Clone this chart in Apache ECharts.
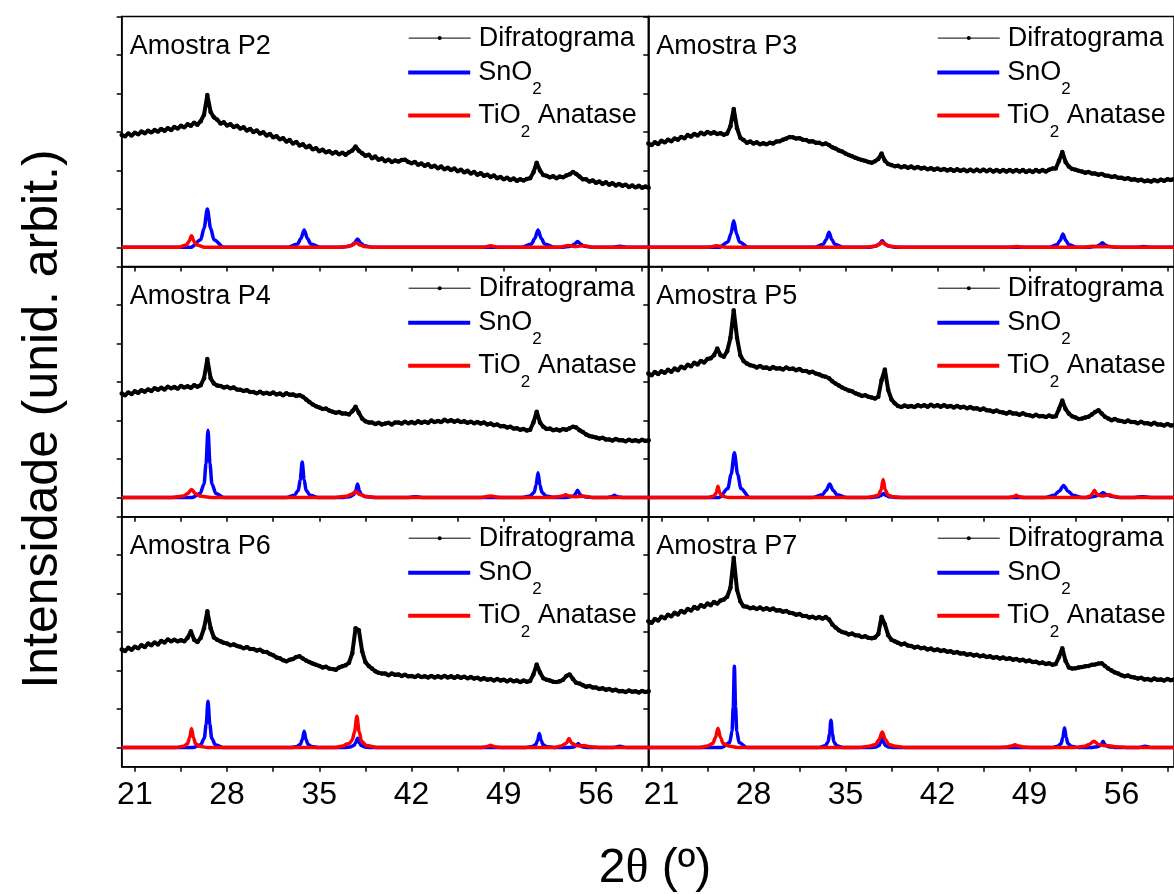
<!DOCTYPE html>
<html><head><meta charset="utf-8">
<script src="https://cdn.jsdelivr.net/npm/echarts@6/dist/echarts.min.js"></script>
<style>html,body{margin:0;padding:0;background:#fff}#c{width:1174px;height:894px}</style>
</head><body><div id="c"></div>
<script>
// ---------- data ----------
const sampleNames = ['Amostra P2','Amostra P3','Amostra P4','Amostra P5','Amostra P6','Amostra P7'];
const xTickLabels = [21,28,35,42,49,56];
const xTicks = [21,24.5,28,31.5,35,38.5,42,45.5,49,52.5,56,59.5];
const yTicks = [0,1,2,3,4,5,6];
const X_START = 20, X_STEP = 0.25; // diffractogram sampling grid (2θ)

// diffractogram intensities (x100, arbitrary units), 2θ = 20 ... 60 step 0.25
const difP2 = [
292,289,296,291, 298,294,301,297, 303,299,305,301, 308,303,310,305, 313,309,316,312,
320,316,324,319, 328,345,396,352, 338,332,322,325, 317,320,313,316, 309,312,304,308,
300,304,296,299, 291,295,286,289, 281,284,275,279, 270,274,265,268, 260,264,255,258,
250,254,247,250, 244,248,242,246, 241,247,252,262, 251,245,238,241, 232,236,228,231,
224,228,222,226, 223,227,228,222, 219,222,215,218, 212,216,209,212, 206,210,203,207,
201,205,198,202, 195,199,192,196, 189,193,186,189, 183,187,180,183, 177,181,175,179,
173,177,174,178, 180,195,220,200, 188,186,182,185, 180,184,182,187, 190,196,191,184,
177,177,171,174, 168,171,165,169, 163,167,161,165, 160,163,157,161, 156,160,155,158, 155];
const difP3 = [
270,266,273,269, 277,273,280,276, 283,280,287,284, 292,288,295,291, 298,294,300,296,
299,295,297,293, 296,315,360,310, 285,279,272,275, 270,273,268,271, 268,272,270,275,
276,280,283,287, 286,283,284,280, 279,275,276,272, 272,268,270,266, 260,257,252,249,
244,240,237,233, 230,227,225,222, 220,224,230,244, 225,217,214,211, 212,208,211,207,
210,206,209,205, 207,203,206,202, 205,201,204,200, 203,199,203,199, 202,198,202,198,
202,198,202,198, 202,197,201,197, 201,197,201,197, 201,197,201,196, 200,196,201,197,
201,197,202,205, 205,225,248,222, 210,204,202,199, 197,194,196,192, 192,189,191,187,
186,183,185,181, 181,178,180,176, 177,174,176,172, 174,171,175,172, 176,173,177,175, 178];
const difP4 = [
270,266,273,269, 276,272,279,275, 281,277,284,280, 285,281,288,284, 287,283,290,286,
289,285,292,288, 292,310,360,310, 296,291,290,286, 288,284,286,281, 280,277,279,274,
274,271,275,270, 272,269,273,268, 270,266,271,267, 268,264,266,262, 255,248,242,237,
234,230,231,226, 223,220,222,218, 218,216,224,236, 220,205,198,195, 195,191,194,190,
192,194,190,195, 195,192,197,193, 196,193,198,194, 197,194,200,196, 199,196,202,198,
201,197,200,196, 198,194,197,193, 196,192,195,190, 192,188,190,185, 186,182,184,179,
180,176,178,174, 176,195,223,195, 184,178,179,175, 177,174,178,176, 180,184,182,175,
170,164,160,158, 156,153,155,151, 151,148,152,149, 149,146,150,147, 149,146,150,147, 149];
const difP5 = [
322,318,326,321, 328,324,332,327, 335,331,340,336, 345,341,350,346, 355,351,360,362,
370,387,370,366, 380,415,487,415, 370,355,348,344, 342,338,342,337, 338,334,339,335,
336,333,338,334, 335,331,334,329, 329,325,327,322, 320,316,314,310, 302,296,291,286,
282,278,276,271, 268,264,266,262, 260,257,262,305, 333,280,255,245, 238,235,239,236,
238,235,240,237, 240,236,241,237, 240,236,240,236, 238,234,238,234, 236,232,235,231,
232,228,231,227, 226,223,226,222, 221,218,222,218, 218,215,219,215, 214,211,215,211,
212,209,213,210, 211,230,252,230, 218,211,208,204, 205,208,210,216, 222,227,218,210,
205,201,204,200, 199,196,200,196, 196,193,197,193, 193,190,194,190, 190,187,191,187, 188];
const difP6 = [
255,251,259,254, 262,258,266,261, 270,266,273,268, 277,273,281,276, 280,276,279,276,
285,302,280,274, 285,310,354,310, 286,280,276,272, 270,266,268,264, 262,258,261,256,
256,252,254,249, 248,243,240,234, 232,227,224,228, 230,235,237,231, 226,222,218,215,
212,208,210,205, 204,202,208,211, 214,220,245,310, 305,250,222,212, 205,198,194,192,
192,188,192,189, 190,186,189,185, 186,183,187,183, 185,182,186,182, 185,182,186,182,
185,181,185,181, 184,180,183,179, 181,177,180,176, 178,174,178,174, 176,172,176,172,
174,170,174,171, 173,190,216,195, 180,176,174,171, 170,172,176,186, 190,178,168,166,
162,158,160,156, 156,152,154,150, 152,148,150,146, 147,144,148,145, 146,143,147,144, 146];
const difP7 = [
328,324,334,330, 340,336,345,341, 350,346,355,351, 360,356,365,361, 370,366,374,370,
378,374,382,385, 392,415,493,410, 380,367,366,362, 364,360,364,359, 362,358,361,356,
357,353,355,350, 349,345,347,342, 342,338,340,336, 339,335,339,333, 320,312,305,300,
298,294,296,292, 291,287,289,285, 284,286,295,340, 320,292,280,276, 272,268,270,265,
264,260,262,258, 259,255,257,253, 255,251,253,249, 250,246,248,244, 245,241,243,239,
241,237,239,235, 237,233,235,231, 234,230,232,228, 230,226,228,224, 226,222,223,219,
221,217,219,215, 217,235,258,225, 208,205,206,208, 209,211,212,215, 216,218,219,212,
205,200,195,192, 188,185,187,183, 182,179,181,177, 178,175,179,176, 177,174,178,175, 177];

// reference patterns [2θ, intensity]
const sno2P2 = [[20,0],
[25.25,0],[26.0,0.2],[26.25,0.5],[26.5,1.0],[26.75,0.5],[27.0,0.2],[27.75,0],
[32.6,0],[33.35,0.09],[33.6,0.23],[33.85,0.45],[34.1,0.23],[34.35,0.09],[35.1,0],
[36.65,0],[37.4,0.04],[37.65,0.11],[37.9,0.22],[38.15,0.11],[38.4,0.04],[39.15,0],
[50.35,0],[51.1,0.09],[51.35,0.23],[51.6,0.45],[51.85,0.23],[52.1,0.09],[52.85,0],
[53.35,0],[54.1,0.03],[54.35,0.08],[54.6,0.15],[54.85,0.08],[55.1,0.03],[55.85,0],
[57.2,0],[57.8,0.03],[58.4,0],[60,0]];
const tio2P2 = [[20,0],
[24.3,0],[24.9,0.06],[25.1,0.15],[25.3,0.3],[25.5,0.15],[25.7,0.06],[26.3,0],
[36.3,0],[37.2,0.025],[37.5,0.06],[37.8,0.12],[38.1,0.06],[38.4,0.025],[39.3,0],
[47.4,0],[48.0,0.04],[48.6,0],
[53.2,0],[53.9,0.05],[54.5,0.025],[55.1,0.04],[55.8,0],[60,0]];
const sno2P3 = [[20,0],
[25.4,0],[26.06,0.14],[26.28,0.35],[26.5,0.69],[26.72,0.35],[26.94,0.14],[27.6,0],
[32.65,0],[33.31,0.08],[33.53,0.2],[33.75,0.39],[33.97,0.2],[34.19,0.08],[34.85,0],
[36.7,0],[37.36,0.035],[37.58,0.085],[37.8,0.17],[38.02,0.085],[38.24,0.035],[38.9,0],
[50.45,0],[51.11,0.07],[51.33,0.18],[51.55,0.35],[51.77,0.18],[51.99,0.07],[52.65,0],
[53.45,0],[54.11,0.025],[54.33,0.06],[54.55,0.12],[54.77,0.06],[54.99,0.025],[55.65,0],
[57.1,0],[57.7,0.02],[58.3,0],[60,0]];
const tio2P3 = [[20,0],[24.5,0],[25.2,0.04],[25.9,0],
[36.3,0],[37.2,0.026],[37.5,0.065],[37.8,0.13],[38.1,0.065],[38.4,0.026],[39.3,0],
[47.4,0],[48.0,0.02],[48.6,0],
[53.1,0],[53.8,0.03],[54.4,0.015],[55.1,0.02],[55.8,0],[60,0]];
const sno2P4 = [[20,0],
[25.35,0],[25.95,0.1],[26.25,0.35],[26.4,0.88],[26.55,1.75],[26.7,0.88],[26.85,0.35],[27.15,0.1],[27.75,0],
[32.5,0],[33.1,0.055],[33.4,0.18],[33.55,0.46],[33.7,0.92],[33.85,0.46],[34.0,0.18],[34.3,0.055],[34.9,0],
[36.8,0],[37.3,0.02],[37.6,0.07],[37.75,0.17],[37.9,0.35],[38.05,0.17],[38.2,0.07],[38.5,0.02],[39.1,0],
[41.8,0],[42.3,0.02],[42.8,0],
[50.4,0],[51.0,0.04],[51.3,0.13],[51.45,0.32],[51.6,0.64],[51.75,0.32],[51.9,0.13],[52.2,0.04],[52.8,0],
[53.6,0],[54.0,0.015],[54.3,0.04],[54.45,0.095],[54.6,0.19],[54.75,0.095],[54.9,0.04],[55.2,0.015],[55.8,0],
[56.8,0],[57.1,0.015],[57.25,0.03],[57.4,0.06],[57.55,0.03],[57.7,0.015],[58.1,0],[60,0]];
const tio2P4 = [[20,0],
[23.8,0],[24.7,0.04],[25.0,0.1],[25.3,0.21],[25.6,0.1],[25.9,0.04],[26.8,0],
[36.0,0],[37.05,0.03],[37.4,0.075],[37.75,0.15],[38.1,0.075],[38.45,0.03],[39.5,0],
[47.3,0],[48.0,0.04],[48.7,0],
[52.6,0],[53.1,0.02],[53.4,0.035],[53.7,0.07],[54.0,0.035],[54.4,0.02],[55.1,0.03],[55.8,0],[60,0]];
const sno2P5 = [[20,0],
[25.4,0],[26.05,0.23],[26.3,0.6],[26.55,1.16],[26.8,0.6],[27.05,0.23],[27.7,0],
[32.5,0],[33.25,0.07],[33.52,0.18],[33.8,0.35],[34.08,0.18],[34.35,0.07],[35.1,0],
[37.0,0],[37.5,0.02],[37.7,0.05],[37.9,0.1],[38.1,0.05],[38.3,0.02],[38.8,0],
[50.2,0],[50.9,0.06],[51.25,0.16],[51.6,0.31],[51.95,0.16],[52.3,0.06],[53.0,0],
[53.5,0],[54.0,0.03],[54.3,0.07],[54.6,0.12],[54.9,0.07],[55.2,0.03],[55.8,0],
[57.0,0],[57.6,0.02],[58.2,0],[60,0]];
const tio2P5 = [[20,0],
[24.5,0],[24.95,0.03],[25.15,0.1],[25.3,0.29],[25.45,0.1],[25.65,0.03],[26.1,0],
[36.6,0],[37.2,0.03],[37.5,0.06],[37.72,0.2],[37.87,0.47],[38.02,0.2],[38.25,0.06],[38.6,0.02],[39.2,0],
[47.4,0],[47.85,0.025],[48.0,0.06],[48.15,0.025],[48.6,0],
[53.3,0],[53.65,0.04],[53.8,0.1],[53.95,0.19],[54.1,0.1],[54.3,0.05],[54.6,0.04],[55.1,0.07],[55.4,0.03],[56.0,0],[60,0]];
const sno2P6 = [[20,0],
[25.4,0],[25.99,0.07],[26.27,0.24],[26.41,0.6],[26.55,1.2],[26.69,0.6],[26.83,0.24],[27.11,0.07],[27.7,0],
[32.9,0],[33.29,0.025],[33.57,0.085],[33.71,0.21],[33.85,0.42],[33.99,0.21],[34.13,0.085],[34.41,0.025],[34.9,0],
[36.9,0],[37.34,0.015],[37.62,0.05],[37.76,0.12],[37.9,0.24],[38.04,0.12],[38.18,0.05],[38.46,0.015],[38.9,0],
[50.7,0],[51.14,0.02],[51.42,0.07],[51.56,0.18],[51.7,0.36],[51.84,0.18],[51.98,0.07],[52.26,0.02],[52.8,0],
[53.9,0],[54.3,0.015],[54.5,0.05],[54.65,0.1],[54.8,0.05],[55.0,0.015],[55.4,0],
[57.3,0],[57.8,0.03],[58.3,0],[60,0]];
const tio2P6 = [[20,0],
[24.1,0],[24.7,0.03],[25.0,0.1],[25.15,0.25],[25.3,0.49],[25.45,0.25],[25.6,0.1],[25.9,0.03],[26.5,0],
[36.2,0],[36.8,0.04],[37.1,0.09],[37.3,0.11],[37.5,0.2],[37.67,0.4],[37.85,0.81],[38.03,0.4],[38.21,0.16],[38.57,0.05],[39.4,0],
[47.2,0],[47.6,0.015],[47.8,0.03],[48.0,0.06],[48.2,0.03],[48.4,0.015],[48.8,0],
[52.9,0],[53.35,0.04],[53.75,0.11],[53.95,0.23],[54.15,0.11],[54.55,0.05],[54.8,0.04],[55.1,0.05],[55.4,0.025],[56.2,0],[60,0]];
const sno2P7 = [[20,0],
[25.6,0],[26.19,0.13],[26.37,0.42],[26.46,1.05],[26.55,2.11],[26.64,1.05],[26.73,0.42],[26.91,0.13],[27.5,0],
[33.0,0],[33.46,0.045],[33.68,0.14],[33.79,0.36],[33.9,0.71],[34.01,0.36],[34.12,0.14],[34.34,0.045],[34.8,0],
[36.9,0],[37.32,0.015],[37.56,0.05],[37.68,0.125],[37.8,0.25],[37.92,0.125],[38.04,0.05],[38.28,0.015],[38.7,0],
[50.7,0],[51.15,0.03],[51.41,0.1],[51.54,0.26],[51.67,0.51],[51.8,0.26],[51.93,0.1],[52.19,0.03],[52.7,0],
[53.7,0],[54.0,0.01],[54.3,0.03],[54.45,0.08],[54.6,0.16],[54.75,0.08],[54.9,0.03],[55.2,0.01],[55.6,0],
[57.3,0],[57.8,0.03],[58.3,0],[60,0]];
const tio2P7 = [[20,0],
[23.9,0],[24.5,0.04],[24.9,0.1],[25.1,0.25],[25.3,0.5],[25.5,0.25],[25.7,0.1],[26.1,0.04],[26.8,0],
[36.0,0],[36.8,0.03],[37.3,0.08],[37.55,0.2],[37.8,0.4],[38.05,0.2],[38.3,0.08],[38.8,0.03],[39.6,0],
[46.6,0],[47.3,0.014],[47.6,0.035],[47.9,0.07],[48.2,0.035],[48.5,0.014],[49.2,0],
[52.4,0],[53.2,0.03],[53.55,0.08],[53.9,0.16],[54.25,0.08],[54.6,0.05],[55.1,0.045],[55.5,0.02],[56.4,0],[60,0]];

// ---------- layout ----------
const diffs = [difP2, difP3, difP4, difP5, difP6, difP7];
const snos = [sno2P2, sno2P3, sno2P4, sno2P5, sno2P6, sno2P7];
const tios = [tio2P2, tio2P3, tio2P4, tio2P5, tio2P6, tio2P7];
const FONT = "'Liberation Sans', Arial, Helvetica, sans-serif";
const colLeft = [121.7, 648.3], rowTop = [16.6, 266.7, 516.7], W = 527, H = 250;
const legendLeft = [408.2, 937.3];

const grids = [], xAxes = [], yAxes = [], series = [], titles = [], legends = [];
const richLeg = {
  a: {fontSize: 27, lineHeight: 30, fontFamily: FONT, color: '#000', verticalAlign: 'middle'},
  s: {fontSize: 17, lineHeight: 17, padding: [34, 0, 0, 0], fontFamily: FONT, color: '#000', verticalAlign: 'middle'}
};
const legRows = [
  {name: 'Difratograma', dy: 23, half: 15, fmt: '{a|Difratograma}'},
  {name: 'SnO2', dy: 56, half: 25.5, fmt: '{a|SnO}{s|2}'},
  {name: 'TiO2 Anatase', dy: 99, half: 25.5, fmt: '{a|TiO}{s|2}{a| Anatase}'}
];

for (let i = 0; i < 6; i++) {
  const r = Math.floor(i / 2), c = i % 2;
  const L = colLeft[c], T = rowTop[r];
  grids.push({left: L, top: T, width: W, height: H, show: true, borderColor: '#000', borderWidth: 1.5, backgroundColor: 'transparent'});
  xAxes.push({
    type: 'value', gridIndex: i, min: 20, max: 60,
    axisLine: {show: true, onZero: false, lineStyle: {color: '#000', width: 1.5}},
    axisTick: {show: true, customValues: xTicks, inside: false, length: 5, lineStyle: {color: '#000', width: 1.5}},
    axisLabel: {show: r === 2, customValues: xTickLabels, color: '#000', fontSize: 32, fontFamily: FONT, margin: 12},
    splitLine: {show: false}
  });
  yAxes.push({
    type: 'value', gridIndex: i, min: -0.5, max: 6,
    axisLine: {show: true, onZero: false, lineStyle: {color: '#000', width: 1.5}},
    axisTick: {show: true, customValues: yTicks, inside: false, length: 5, lineStyle: {color: '#000', width: 1.5}},
    axisLabel: {show: false},
    splitLine: {show: false}
  });
  series.push({
    type: 'line', name: 'Difratograma', xAxisIndex: i, yAxisIndex: i,
    data: diffs[i].map((v, k) => [X_START + k * X_STEP, v / 100]),
    symbol: 'circle', symbolSize: 4.5, showSymbol: true, showAllSymbol: true,
    lineStyle: {color: '#000', width: 4}, itemStyle: {color: '#000'}, z: 2, silent: true
  });
  series.push({
    type: 'line', name: 'SnO2', xAxisIndex: i, yAxisIndex: i, data: snos[i],
    symbol: 'none', smooth: 0.3, smoothMonotone: 'x',
    lineStyle: {color: '#0000ff', width: 3.5}, itemStyle: {color: '#0000ff'}, z: 3, silent: true
  });
  series.push({
    type: 'line', name: 'TiO2 Anatase', xAxisIndex: i, yAxisIndex: i, data: tios[i],
    symbol: 'none', smooth: 0.3, smoothMonotone: 'x',
    lineStyle: {color: '#ff0000', width: 3.5}, itemStyle: {color: '#ff0000'}, z: 4, silent: true
  });
  titles.push({
    text: sampleNames[i], left: L + 8, top: T + 16.5, padding: 0,
    textStyle: {fontSize: 27, fontWeight: 'normal', color: '#000', fontFamily: FONT, lineHeight: 27}
  });
  legRows.forEach((lr, j) => {
    const isDif = j === 0;
    legends.push({
      data: [lr.name], left: legendLeft[c], top: T + lr.dy - lr.half, padding: 0,
      orient: 'horizontal', selectedMode: false,
      itemWidth: 62, itemHeight: isDif ? 5 : 4,
      icon: isDif ? undefined : 'rect',
      lineStyle: {width: 1},
      formatter: () => lr.fmt,
      textStyle: {padding: [0, 0, 0, 3], rich: richLeg}
    });
  });
}

const chart = echarts.init(document.getElementById('c'), null, {renderer: 'canvas'});
chart.setOption({
  animation: false,
  backgroundColor: '#fff',
  grid: grids, xAxis: xAxes, yAxis: yAxes, series: series,
  title: titles, legend: legends,
  graphic: [
    {type: 'text', x: 655, y: 869, style: {
      text: '{a|2}{t|θ}{a| (º)}', align: 'center', verticalAlign: 'middle',
      rich: {a: {fontSize: 48, fontFamily: FONT, fill: '#000'}, t: {fontSize: 48, fontFamily: "'Liberation Serif', 'DejaVu Serif', serif", fill: '#000'}}
    }},
    {type: 'text', x: 43, y: 419, rotation: Math.PI / 2, style: {
      text: 'Intensidade (unid. arbit.)', align: 'center', verticalAlign: 'middle',
      font: "50px " + FONT, fill: '#000'
    }}
  ]
});
</script></body></html>
